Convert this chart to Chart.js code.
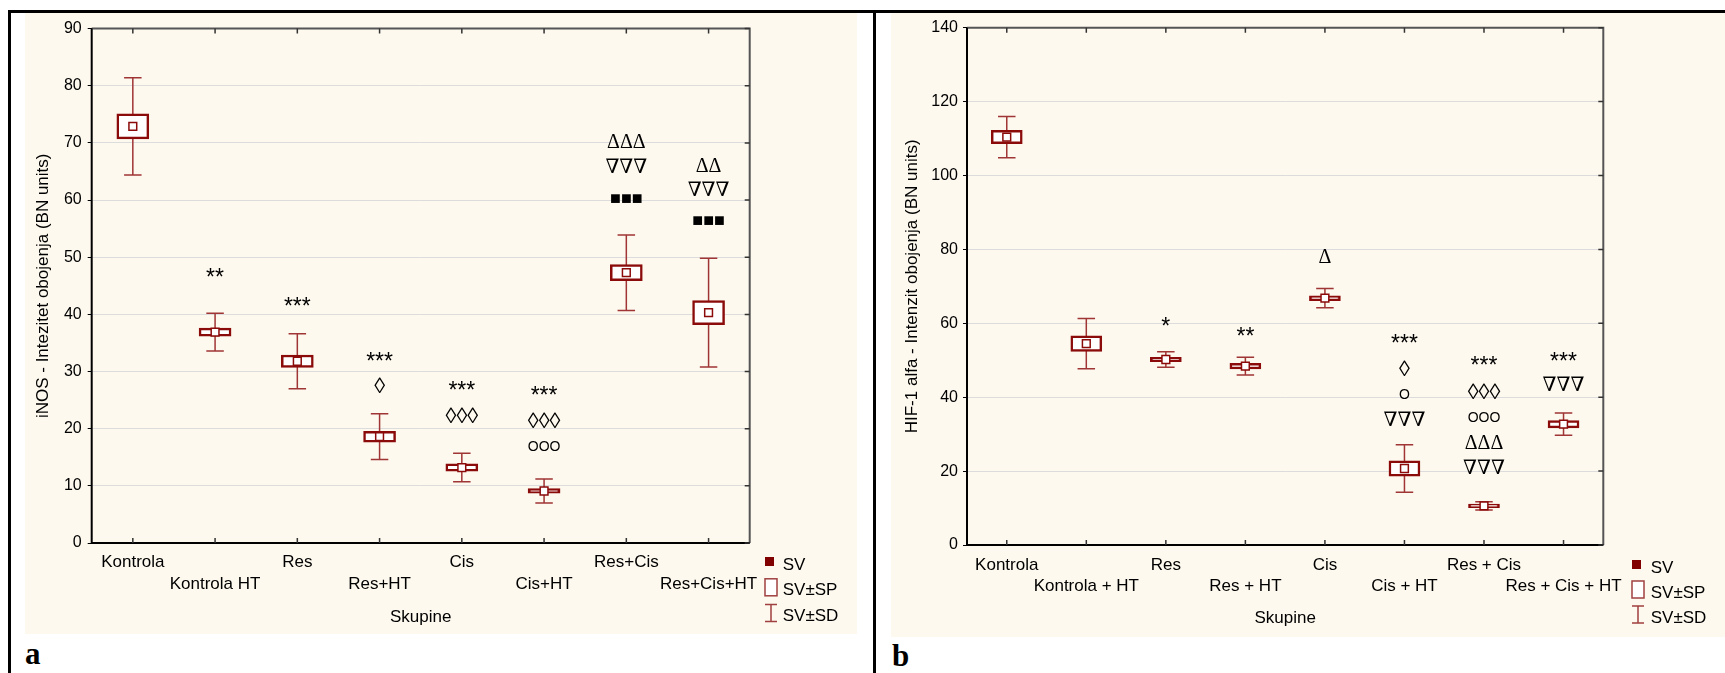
<!DOCTYPE html>
<html>
<head>
<meta charset="utf-8">
<script src="https://cdn.jsdelivr.net/npm/chart.js@4.4.1/dist/chart.umd.min.js"></script>
<style>
  html, body { margin: 0; padding: 0; background: #fff; width: 1725px; height: 673px; overflow: hidden; }
  .panel { position: absolute; background: #fdf9ee; }
  #pa { left: 25px; top: 13px; width: 832px; height: 621px; }
  #pb { left: 891px; top: 13px; width: 834px; height: 624px; }
  .rule { position: absolute; background: #000; }
  .tag { position: absolute; font: bold 31px "Liberation Serif", serif; color: #000; }
  canvas { display: block; }
</style>
</head>
<body>
<div class="rule" style="left:8px;top:10px;width:1717px;height:3px"></div>
<div class="rule" style="left:8px;top:10px;width:3px;height:663px"></div>
<div class="rule" style="left:873px;top:10px;width:3px;height:663px"></div>
<div class="panel" id="pa"><canvas id="ca"></canvas></div>
<div class="panel" id="pb"><canvas id="cb"></canvas></div>
<div class="tag" style="left:25px;top:636px">a</div>
<div class="tag" style="left:892px;top:638px">b</div>

<script>
// --- Panel a: iNOS ---
const groupsA = ['Kontrola', 'Kontrola HT', 'Res', 'Res+HT', 'Cis', 'Cis+HT', 'Res+Cis', 'Res+Cis+HT'];
const meanA = [72.9, 36.9, 31.8, 18.6, 13.2, 9.1, 47.3, 40.3];
const seA = [2.2, 0.7, 1.1, 0.95, 0.65, 0.4, 1.4, 2.1];
const sdA = [8.5, 3.3, 4.8, 4.0, 2.5, 2.1, 6.6, 9.5];
const yAxisA = [0, 90, 10]; // min, max, step
// significance marks: [text, value where the row sits]
const marksA = [
  [],
  [['**', 47.4]],
  [['***', 42.2]],
  [['***', 32.7], ['◊', 27.6]],
  [['***', 27.6], ['◊◊◊', 22.4]],
  [['***', 26.6], ['◊◊◊', 21.6], ['OOO', 17.0]],
  [['ΔΔΔ', 70.3], ['∇∇∇', 66.1], ['■■■', 60.3]],
  [['ΔΔ', 66.2], ['∇∇∇', 62.0], ['■■■', 56.4]]
];

// --- Panel b: HIF-1 alfa ---
const groupsB = ['Kontrola', 'Kontrola + HT', 'Res', 'Res + HT', 'Cis', 'Cis + HT', 'Res + Cis', 'Res + Cis + HT'];
const meanB = [110.4, 54.5, 50.2, 48.4, 66.8, 20.7, 10.6, 32.7];
const seB = [1.8, 2.1, 0.6, 0.75, 0.65, 2.1, 0.5, 1.0];
const sdB = [5.6, 6.8, 2.1, 2.4, 2.6, 6.4, 1.1, 3.0];
const yAxisB = [0, 140, 20];
const marksB = [
  [],
  [],
  [['*', 60.6]],
  [['**', 57.8]],
  [['Δ', 78.1]],
  [['***', 55.9], ['◊', 47.8], ['O', 41.0], ['∇∇∇', 34.2]],
  [['***', 50.0], ['◊◊◊', 41.8], ['OOO', 34.6], ['ΔΔΔ', 27.9], ['∇∇∇', 21.3]],
  [['***', 50.9], ['∇∇∇', 43.6]]
];

const FONT = '"Liberation Sans", Arial, sans-serif';
const DARK = '#8b0a0a';
const WHISK = '#a03535';

function markFont(t) {
  const c = t[0];
  if (c === '*') return '23px "Liberation Sans"';
  if (c === 'O') return '14px "Liberation Sans"';
  if (c === '■') return '18px "Liberation Sans"';
  if (c === '◊') return '22px "Liberation Serif", "DejaVu Serif", serif';
  return '20px "Liberation Serif", "DejaVu Serif", serif';
}

// frame, inner ticks and SD whiskers, drawn under the boxes
const boxStats = {
  id: 'boxStats',
  beforeDatasetsDraw(chart, args, opts) {
    const { ctx, chartArea: a, scales: { x, y } } = chart;
    ctx.save();
    // whiskers (mean ± SD)
    ctx.strokeStyle = WHISK;
    ctx.lineWidth = 1.5;
    opts.mean.forEach((m, i) => {
      const px = x.getPixelForValue(i);
      const top = y.getPixelForValue(m + opts.sd[i]);
      const bot = y.getPixelForValue(m - opts.sd[i]);
      ctx.beginPath();
      ctx.moveTo(px, top); ctx.lineTo(px, bot);
      ctx.moveTo(px - opts.cap / 2, top); ctx.lineTo(px + opts.cap / 2, top);
      ctx.moveTo(px - opts.cap / 2, bot); ctx.lineTo(px + opts.cap / 2, bot);
      ctx.stroke();
    });
    // frame
    ctx.lineWidth = 2;
    ctx.strokeStyle = '#555';
    ctx.beginPath();
    ctx.moveTo(a.left, a.top); ctx.lineTo(a.right, a.top); ctx.lineTo(a.right, a.bottom);
    ctx.stroke();
    ctx.strokeStyle = '#000';
    ctx.beginPath();
    ctx.moveTo(a.left, a.top); ctx.lineTo(a.left, a.bottom); ctx.lineTo(a.right, a.bottom);
    ctx.stroke();
    // inward ticks
    ctx.lineWidth = 1.5;
    ctx.strokeStyle = '#333';
    ctx.beginPath();
    opts.mean.forEach((m, i) => {
      const px = x.getPixelForValue(i);
      ctx.moveTo(px, a.top); ctx.lineTo(px, a.top + 5);
      ctx.moveTo(px, a.bottom); ctx.lineTo(px, a.bottom - 5);
    });
    y.ticks.forEach(t => {
      const py = y.getPixelForValue(t.value);
      ctx.moveTo(a.right, py); ctx.lineTo(a.right - 5, py);
    });
    ctx.stroke();
    ctx.restore();
  },
  afterDatasetsDraw(chart, args, opts) {
    const { ctx, scales: { x, y } } = chart;
    ctx.save();
    ctx.fillStyle = '#000';
    ctx.textAlign = 'center';
    ctx.textBaseline = 'alphabetic';
    opts.marks.forEach((rows, i) => {
      const px = x.getPixelForValue(i);
      rows.forEach(([t, v]) => {
        ctx.font = markFont(t);
        const m = ctx.measureText(t);
        const py = y.getPixelForValue(v);
        ctx.fillText(t, px, py + (m.actualBoundingBoxAscent - m.actualBoundingBoxDescent) / 2);
      });
    });
    ctx.restore();
  },
  afterDraw(chart, args, opts) {
    const { ctx } = chart;
    const lg = opts.legend;
    ctx.save();
    ctx.font = '17px ' + FONT;
    ctx.fillStyle = '#000';
    ctx.textBaseline = 'middle';
    ctx.textAlign = 'left';
    const names = ['SV', 'SV±SP', 'SV±SD'];
    names.forEach((n, k) => {
      const ty = lg.y + k * lg.gap;
      ctx.fillText(n, lg.x + lg.textDx, ty + 1);
    });
    // SV: filled square
    ctx.fillStyle = '#800000';
    ctx.fillRect(lg.x, lg.y - 7, 9, 9);
    // SV±SP: open box
    const by = lg.y + lg.gap;
    ctx.fillStyle = '#fff';
    ctx.fillRect(lg.x, by - 11, 12, 17);
    ctx.strokeStyle = '#a04040';
    ctx.lineWidth = 1.5;
    ctx.strokeRect(lg.x, by - 11, 12, 17);
    // SV±SD: I-beam
    const iy = lg.y + 2 * lg.gap;
    ctx.beginPath();
    ctx.moveTo(lg.x + 6, iy - 11); ctx.lineTo(lg.x + 6, iy + 6);
    ctx.moveTo(lg.x, iy - 11); ctx.lineTo(lg.x + 12, iy - 11);
    ctx.moveTo(lg.x, iy + 6); ctx.lineTo(lg.x + 12, iy + 6);
    ctx.stroke();
    ctx.restore();
  }
};

function makeChart(id, c) {
  const canvas = document.getElementById(id);
  canvas.width = c.w;
  canvas.height = c.h;
  return new Chart(canvas, {
    type: 'bar',
    data: {
      labels: c.groups.map((g, i) => (i % 2 ? ['', g] : [g])),
      datasets: [
        {
          type: 'line',
          data: c.mean,
          showLine: false,
          pointStyle: 'rect',
          pointRadius: 5.5,
          pointBackgroundColor: '#fff',
          pointBorderColor: DARK,
          pointBorderWidth: 1.5,
          order: 0
        },
        {
          type: 'bar',
          data: c.mean.map((m, i) => [m - c.se[i], m + c.se[i]]),
          backgroundColor: '#fff',
          borderColor: DARK,
          borderWidth: 2.5,
          borderSkipped: false,
          barThickness: c.barW,
          order: 1
        }
      ]
    },
    options: {
      responsive: false,
      animation: false,
      events: [],
      layout: { padding: { left: 0, top: c.top, right: c.right, bottom: 0 } },
      plugins: {
        legend: { display: false },
        tooltip: { enabled: false },
        boxStats: { mean: c.mean, sd: c.sd, marks: c.marks, cap: 17.5, legend: c.legend }
      },
      scales: {
        x: {
          grid: { display: false, drawTicks: false },
          border: { display: false },
          ticks: {
            autoSkip: false, maxRotation: 0, color: '#000', padding: c.labelPad,
            font: { family: FONT, size: 17, lineHeight: c.labelLine / 17 }
          },
          title: {
            display: true, text: 'Skupine', color: '#000',
            font: { family: FONT, size: 17, lineHeight: 1 },
            padding: { top: 0, bottom: c.xTitlePad }
          },
          afterFit: s => { s.height = c.h - c.plotBottom; }
        },
        y: {
          min: c.yAxis[0], max: c.yAxis[1],
          ticks: { stepSize: c.yAxis[2], color: '#000', padding: c.tickPad, font: { family: FONT, size: 16 } },
          grid: { color: '#dcdcdc', lineWidth: 1, tickLength: 4, tickColor: '#000' },
          border: { display: false },
          title: {
            display: true, text: c.yTitle, color: '#000',
            font: { family: FONT, size: 17, lineHeight: 1 },
            padding: { top: c.yTitlePad, bottom: 0 }
          },
          afterFit: s => { s.width = c.plotLeft; }
        }
      }
    },
    plugins: [boxStats]
  });
}

makeChart('ca', {
  groups: groupsA, mean: meanA, se: seA, sd: sdA, marks: marksA, yAxis: yAxisA,
  yTitle: 'iNOS - Intezitet obojenja (BN units)',
  w: 832, h: 621, plotLeft: 66.7, top: 15, right: 107.3, plotBottom: 530,
  labelPad: 8, labelLine: 22, xTitlePad: 8.5, yTitlePad: 9.5, tickPad: 6, barW: 32,
  legend: { x: 740, y: 551, gap: 25.8, textDx: 17.7 }
});

makeChart('cb', {
  groups: groupsB, mean: meanB, se: seB, sd: sdB, marks: marksB, yAxis: yAxisB,
  yTitle: 'HIF-1 alfa - Intenzit obojenja (BN units)',
  w: 834, h: 624, plotLeft: 76, top: 14.7, right: 121.7, plotBottom: 532,
  labelPad: 9.5, labelLine: 21, xTitlePad: 9.8, yTitlePad: 12.5, tickPad: 5, barW: 31,
  legend: { x: 741, y: 554, gap: 25, textDx: 18.7 }
});
</script>
</body>
</html>
